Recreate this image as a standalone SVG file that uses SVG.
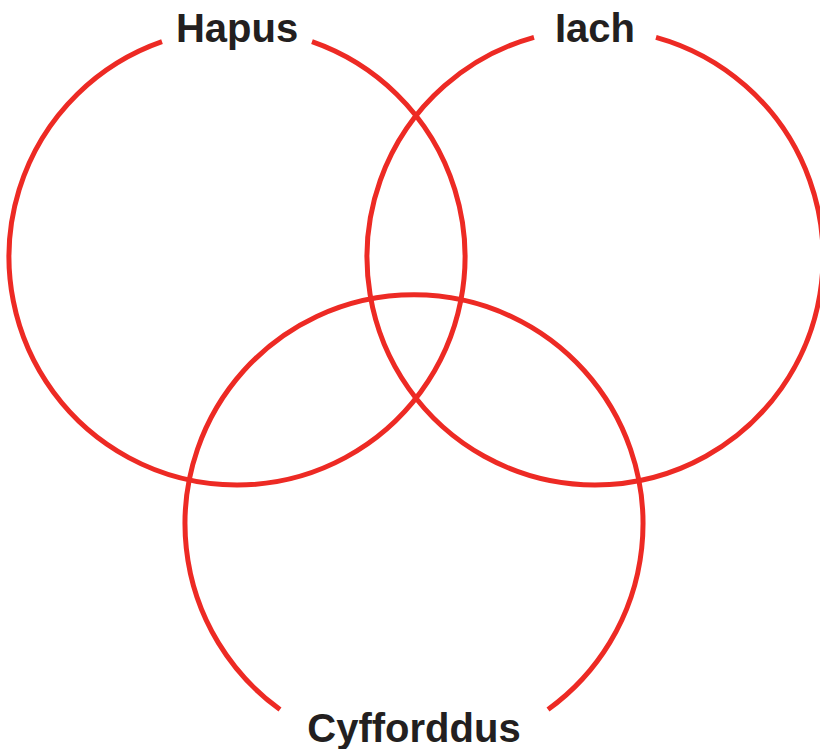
<svg xmlns="http://www.w3.org/2000/svg" width="820" height="749" viewBox="0 0 820 749">
<style>
.ring{fill:none;stroke:#ed2a24;stroke-width:5}
.lbl{font-family:"Liberation Sans",Arial,sans-serif;font-weight:bold;font-size:40px;fill:#231f20;text-anchor:middle}
</style>
<rect width="820" height="749" fill="#fff"/>
<g id="hapus">
<path class="ring" d="M 312 41.7 A 228 228 0 1 1 162 41.7"/>
<text class="lbl" x="237" y="42">Hapus</text>
</g>
<g id="iach">
<path class="ring" d="M 656 37.3 A 228 228 0 1 1 534 37.3"/>
<text class="lbl" x="595" y="42">Iach</text>
</g>
<g id="cyfforddus">
<path class="ring" d="M 280 709.5 A 229 229 0 1 1 548 709.5"/>
<text class="lbl" x="414" y="742">Cyfforddus</text>
</g>
</svg>
